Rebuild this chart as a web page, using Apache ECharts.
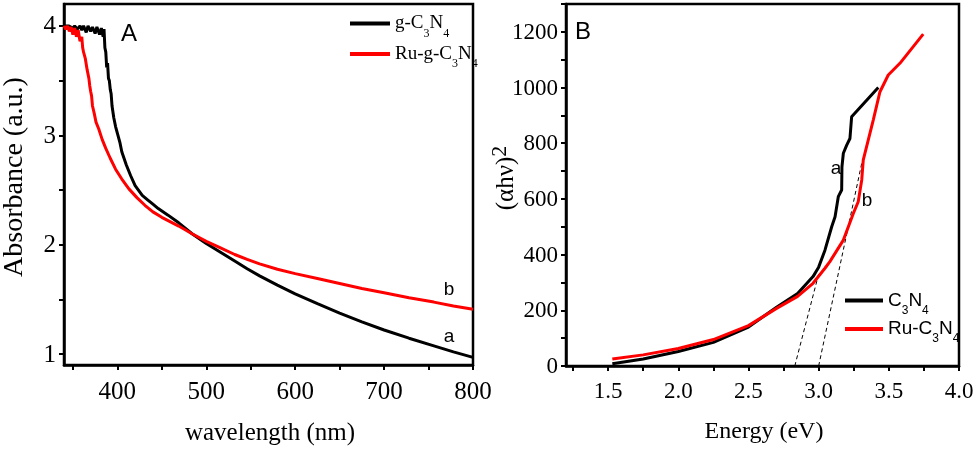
<!DOCTYPE html>
<html>
<head>
<meta charset="utf-8">
<script src="https://cdn.jsdelivr.net/npm/echarts@6/dist/echarts.min.js"></script>
<style>
html,body{margin:0;padding:0;background:#fff;}
#c{width:979px;height:452px;}
</style>
</head>
<body>
<div id="c"></div>
<script>
// ---- Panel A data: absorbance vs wavelength ----
const gWave = [340,345,350,352,355,358,360,362,365,367,370,372,375,377,380,382,384,385,386,387,388,389,390,391,392,393,394,396,398,400,403,405,410,415,420,428,434,440,446,457,469,484,500,516,532,546,560,580,600,625,650,675,700,728,756,778,800];
const gAbs  = [4.0,4.0,3.98,4.0,3.97,4.0,3.96,4.0,3.94,4.0,3.95,3.99,3.93,3.99,3.92,3.98,3.9,3.97,3.8,3.76,3.62,3.66,3.52,3.5,3.42,3.38,3.27,3.16,3.08,3.02,2.93,2.85,2.73,2.63,2.54,2.45,2.41,2.37,2.33,2.27,2.2,2.1,2.01,1.93,1.85,1.78,1.715,1.63,1.55,1.46,1.375,1.295,1.22,1.145,1.075,1.02,0.97];
const rWave = [340,342,344,346,348,350,352,354,356,358,360,361,362,364,366,368,369,370,371,372,374,376,379,383,387,392,398,405,413,422,431,440,450,469,484,500,516,532,546,560,580,600,625,650,675,700,728,756,778,800];
const rAbs  = [4.0,3.97,4.0,3.95,3.99,3.92,3.98,3.9,3.96,3.86,3.9,3.8,3.76,3.7,3.6,3.52,3.45,3.4,3.36,3.27,3.2,3.12,3.06,2.96,2.88,2.79,2.69,2.6,2.51,2.43,2.36,2.3,2.25,2.17,2.1,2.03,1.97,1.91,1.865,1.825,1.775,1.735,1.69,1.645,1.6,1.56,1.515,1.475,1.44,1.41];

// ---- Panel B data: (αhν)^2 vs energy ----
const cE  = [1.53,1.75,2.0,2.25,2.5,2.7,2.85,2.96,3.0,3.045,3.093,3.117,3.14,3.164,3.166,3.176,3.2,3.223,3.235,3.247,3.425];
const cV  = [8,25,52,85,140,211,260,321,355,416,500,536,608,632,715,764,793,817,895,901,1000];
const ruE = [1.53,1.75,2.0,2.25,2.5,2.7,2.85,2.96,3.045,3.08,3.176,3.247,3.282,3.307,3.318,3.389,3.437,3.496,3.579,3.745];
const ruV = [25,40,63,95,145,207,250,297,351,375,452,548,590,668,740,883,985,1045,1087,1192];
// tangent (band-gap) lines
const tan1E = [2.83, 3.0];
const tan1V = [0, 330];
const tan2E = [3.0, 3.31];
const tan2V = [0, 735];

// ---- ticks and tick labels ----
const aTickX  = [350,400,450,500,550,600,650,700,750,800];
const aLabelX = [400,500,600,700,800];
const aTickY  = [1,1.5,2,2.5,3,3.5,4];
const aLabelY = [1,2,3,4];
const bTickX  = [1.25,1.5,1.75,2.0,2.25,2.5,2.75,3.0,3.25,3.5,3.75,4.0];
const bLabelX = ['1.5','2.0','2.5','3.0','3.5','4.0'];
const bTickY  = [0,100,200,300,400,500,600,700,800,900,1000,1100,1200,1300];
const bLabelY = [0,200,400,600,800,1000,1200];

const zip = (a, b) => a.map((v, i) => [v, b[i]]);

const SERIF = '"Liberation Serif", "Times New Roman", serif';
const SANS = '"Liberation Sans", Arial, sans-serif';

function axisCommon(min, max, ticks) {
  return {
    type: 'value', min: min, max: max,
    axisLine: { show: true, onZero: false, lineStyle: { color: '#000', width: 2.5 } },
    axisTick: { show: true, inside: false, length: 5, customValues: ticks, lineStyle: { color: '#000', width: 2 } },
    axisLabel: { show: false },
    splitLine: { show: false },
    minorTick: { show: false }
  };
}

const chart = echarts.init(document.getElementById('c'), null, { renderer: 'canvas' });

const legendRichSerif = {
  n: { fontFamily: 'Liberation Serif', fontSize: 19, lineHeight: 32, color: '#000' },
  s: { fontFamily: 'Liberation Serif', fontSize: 12, lineHeight: 12, color: '#000', verticalAlign: 'bottom' }
};
const legendRichSans = {
  n: { fontFamily: 'Liberation Sans', fontSize: 19, lineHeight: 32, color: '#000' },
  s: { fontFamily: 'Liberation Sans', fontSize: 12, lineHeight: 12, color: '#000', verticalAlign: 'bottom' }
};
const subFmt = {
  'g-C3N4': '{n|g-C}{s|3}{n|N}{s|4}',
  'Ru-g-C3N4': '{n|Ru-g-C}{s|3}{n|N}{s|4}',
  'C3N4': '{n|C}{s|3}{n|N}{s|4}',
  'Ru-C3N4': '{n|Ru-C}{s|3}{n|N}{s|4}'
};

const option = {
  animation: false,
  backgroundColor: '#fff',
  grid: [
    { left: 64, top: 4, width: 409, height: 361, show: true, borderColor: '#000', borderWidth: 2.5, containLabel: false },
    { left: 566, top: 4, width: 393, height: 362, show: true, borderColor: '#000', borderWidth: 2.5, containLabel: false }
  ],
  xAxis: [
    Object.assign({ gridIndex: 0 }, axisCommon(340, 800, aTickX)),
    Object.assign({ gridIndex: 1 }, axisCommon(1.2, 4.0, bTickX))
  ],
  yAxis: [
    Object.assign({ gridIndex: 0 }, axisCommon(0.9, 4.2, aTickY)),
    Object.assign({ gridIndex: 1 }, axisCommon(0, 1300, bTickY))
  ],
  legend: [
    {
      data: ['g-C3N4', 'Ru-g-C3N4'],
      orient: 'vertical', left: 345, top: 9,
      itemWidth: 40, itemHeight: 4, itemGap: 5, icon: 'rect',
      formatter: name => subFmt[name],
      textStyle: { rich: legendRichSerif },
      selectedMode: false
    },
    {
      data: ['C3N4', 'Ru-C3N4'],
      orient: 'vertical', left: 840, top: 286,
      itemWidth: 38, itemHeight: 4, itemGap: 3, icon: 'rect',
      formatter: name => subFmt[name],
      textStyle: { rich: legendRichSans },
      selectedMode: false
    }
  ],
  series: [
    { name: 'g-C3N4', type: 'line', xAxisIndex: 0, yAxisIndex: 0, data: zip(gWave, gAbs), symbol: 'none',
      lineStyle: { color: '#000', width: 3 }, itemStyle: { color: '#000' }, z: 3 },
    { name: 'Ru-g-C3N4', type: 'line', xAxisIndex: 0, yAxisIndex: 0, data: zip(rWave, rAbs), symbol: 'none',
      lineStyle: { color: '#ff0000', width: 3 }, itemStyle: { color: '#ff0000' }, z: 4 },
    { name: 'tangent1', type: 'line', xAxisIndex: 1, yAxisIndex: 1, data: zip(tan1E, tan1V), symbol: 'none', silent: true,
      lineStyle: { color: '#000', width: 1, type: [4, 3] }, z: 2 },
    { name: 'tangent2', type: 'line', xAxisIndex: 1, yAxisIndex: 1, data: zip(tan2E, tan2V), symbol: 'none', silent: true,
      lineStyle: { color: '#000', width: 1, type: [4, 3] }, z: 2 },
    { name: 'C3N4', type: 'line', xAxisIndex: 1, yAxisIndex: 1, data: zip(cE, cV), symbol: 'none',
      lineStyle: { color: '#000', width: 3 }, itemStyle: { color: '#000' }, z: 3 },
    { name: 'Ru-C3N4', type: 'line', xAxisIndex: 1, yAxisIndex: 1, data: zip(ruE, ruV), symbol: 'none',
      lineStyle: { color: '#ff0000', width: 3 }, itemStyle: { color: '#ff0000' }, z: 4 }
  ]
};
chart.setOption(option);

// ---- text: tick labels (placed through the axes' own scales), titles, annotations ----
function txt(x, y, text, font, align, vAlign, extra) {
  return Object.assign({
    type: 'text', x: x, y: y, z: 10,
    style: { text: text, font: font, fill: '#000', textAlign: align, textVerticalAlign: vAlign, align: align, verticalAlign: vAlign }
  }, extra || {});
}
const g = [];
const aBottom = chart.convertToPixel({ yAxisIndex: 0 }, 0.9);
const aLeft = chart.convertToPixel({ xAxisIndex: 0 }, 340);
const bBottom = chart.convertToPixel({ yAxisIndex: 1 }, 0);
const bLeft = chart.convertToPixel({ xAxisIndex: 1 }, 1.2);
aLabelX.forEach(v => g.push(txt(chart.convertToPixel({ xAxisIndex: 0 }, v), aBottom + 27, String(v), '25px ' + SERIF, 'center', 'middle')));
aLabelY.forEach(v => g.push(txt(aLeft - 8, chart.convertToPixel({ yAxisIndex: 0 }, v) + 1, String(v), '25px ' + SERIF, 'right', 'middle')));
bLabelX.forEach(v => g.push(txt(chart.convertToPixel({ xAxisIndex: 1 }, parseFloat(v)), bBottom + 26, v, '23px ' + SERIF, 'center', 'middle')));
bLabelY.forEach(v => g.push(txt(bLeft - 8, chart.convertToPixel({ yAxisIndex: 1 }, v) + 1, String(v), '23px ' + SERIF, 'right', 'middle')));

g.push(txt(129, 34, 'A', '24px ' + SANS, 'center', 'middle'));
g.push(txt(583, 32, 'B', '24px ' + SANS, 'center', 'middle'));
g.push(txt(449, 290, 'b', '19px ' + SANS, 'center', 'middle'));
g.push(txt(449, 337, 'a', '19px ' + SANS, 'center', 'middle'));
g.push(txt(836, 169, 'a', '19px ' + SANS, 'center', 'middle'));
g.push(txt(867, 201, 'b', '19px ' + SANS, 'center', 'middle'));
g.push(txt(270, 433, 'wavelength (nm)', '25px ' + SERIF, 'center', 'middle'));
g.push(txt(764, 432, 'Energy (eV)', '24px ' + SERIF, 'center', 'middle'));
g.push(txt(15, 177, 'Absorbance (a.u.)', '28px ' + SERIF, 'center', 'middle', { rotation: Math.PI / 2 }));
g.push({
  type: 'text', x: 506, y: 178, rotation: Math.PI / 2, z: 10,
  style: {
    text: '{n|(αhν)}{p|2}', fill: '#000', textAlign: 'center', textVerticalAlign: 'middle', align: 'center', verticalAlign: 'middle',
    rich: {
      n: { fontFamily: 'Liberation Serif', fontSize: 25, lineHeight: 34, fill: '#000', color: '#000' },
      p: { fontFamily: 'Liberation Serif', fontSize: 22, lineHeight: 22, fill: '#000', color: '#000', verticalAlign: 'top' }
    }
  }
});
chart.setOption({ graphic: g });
</script>
</body>
</html>
